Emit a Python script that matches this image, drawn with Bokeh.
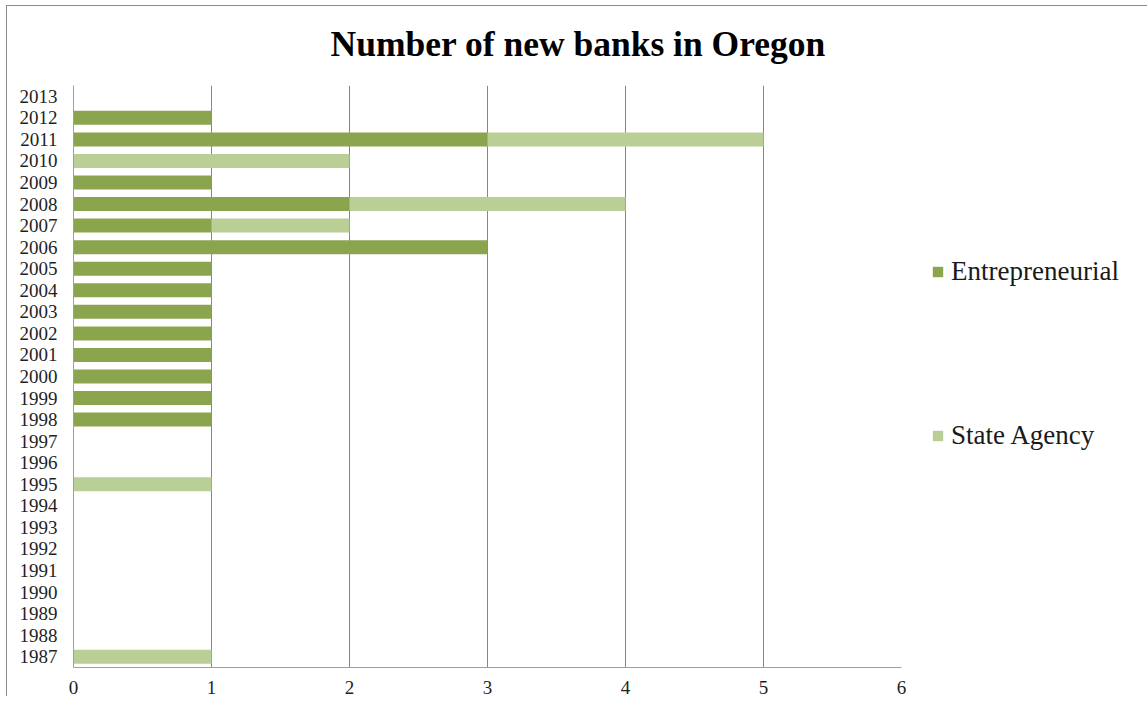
from bokeh.plotting import figure
from bokeh.models import ColumnDataSource, Legend, LegendItem, FixedTicker, Range1d
from bokeh.embed import file_html
from bokeh.resources import INLINE

years = [str(y) for y in range(1987, 2014)]
entrepreneurial = [0, 0, 0, 0, 0, 0, 0, 0, 0, 0, 0,
                   1, 1, 1, 1, 1, 1, 1, 1,
                   3, 1, 2, 1, 0, 3, 1, 0]
state_agency = [1, 0, 0, 0, 0, 0, 0, 0, 1, 0, 0,
                0, 0, 0, 0, 0, 0, 0, 0,
                0, 1, 2, 0, 2, 2, 0, 0]
series_names = ["Entrepreneurial", "State Agency"]
x_ticks = [0, 1, 2, 3, 4, 5, 6]

source = ColumnDataSource(dict(year=years, Entrepreneurial=entrepreneurial,
                               **{"State Agency": state_agency}))

SERIF = "Liberation Serif"
colors = ["#8aa54e", "#b9cf96"]

p = figure(y_range=years, x_range=Range1d(0, 6),
           frame_width=828, frame_height=582,
           min_border_left=73, min_border_right=230,
           min_border_top=84, min_border_bottom=29,
           output_backend="svg", toolbar_location=None,
           background_fill_color="white", border_fill_color="white",
           border_fill_alpha=0, outline_line_color=None)

p.styles = {"background": "linear-gradient(#8c8c8c,#8c8c8c) 6px 5px / 1px calc(100% - 5px) no-repeat, "
                          "linear-gradient(#8c8c8c,#8c8c8c) 6px 5px / calc(100% - 6px) 1px no-repeat, #ffffff"}

renderers = p.hbar_stack(series_names, y="year", height=0.65, color=colors,
                         line_color=None, source=source)

p.title.text = "Number of new banks in Oregon"
p.title.text_font = SERIF
p.title.text_font_style = "bold"
p.title.text_font_size = "35.5px"
p.title.text_color = "black"
p.title.align = "left"
p.title.offset = 257
p.title.standoff = 43

p.xaxis.ticker = FixedTicker(ticks=x_ticks)
p.xaxis.major_tick_line_color = None
p.xaxis.minor_tick_line_color = None
p.xaxis.axis_line_color = "#a0a0a0"
p.xaxis.major_label_text_font = SERIF
p.xaxis.major_label_text_font_size = "19px"
p.xaxis.major_label_text_color = "#1f1f1f"
p.xaxis.major_label_standoff = 7

p.yaxis.major_tick_line_color = None
p.yaxis.minor_tick_line_color = None
p.yaxis.axis_line_color = "#a0a0a0"
p.yaxis.major_label_text_font = SERIF
p.yaxis.major_label_text_font_size = "19px"
p.yaxis.major_label_text_color = "#1f1f1f"
p.yaxis.major_label_standoff = 10

p.ygrid.grid_line_color = None
p.xgrid.grid_line_color = "#868686"
p.xgrid.grid_line_width = 1

legend = Legend(items=[LegendItem(label=series_names[0], renderers=[renderers[0]]),
                       LegendItem(label=series_names[1], renderers=[renderers[1]])],
                location=(30, 216), spacing=133,
                glyph_width=13, glyph_height=13, label_standoff=7,
                label_text_font=SERIF, label_text_font_size="27px",
                label_text_color="#1a1a1a",
                border_line_color=None, background_fill_alpha=0,
                padding=0, margin=0)
p.add_layout(legend, "right")

open("out.html", "w").write(file_html(p, INLINE))
